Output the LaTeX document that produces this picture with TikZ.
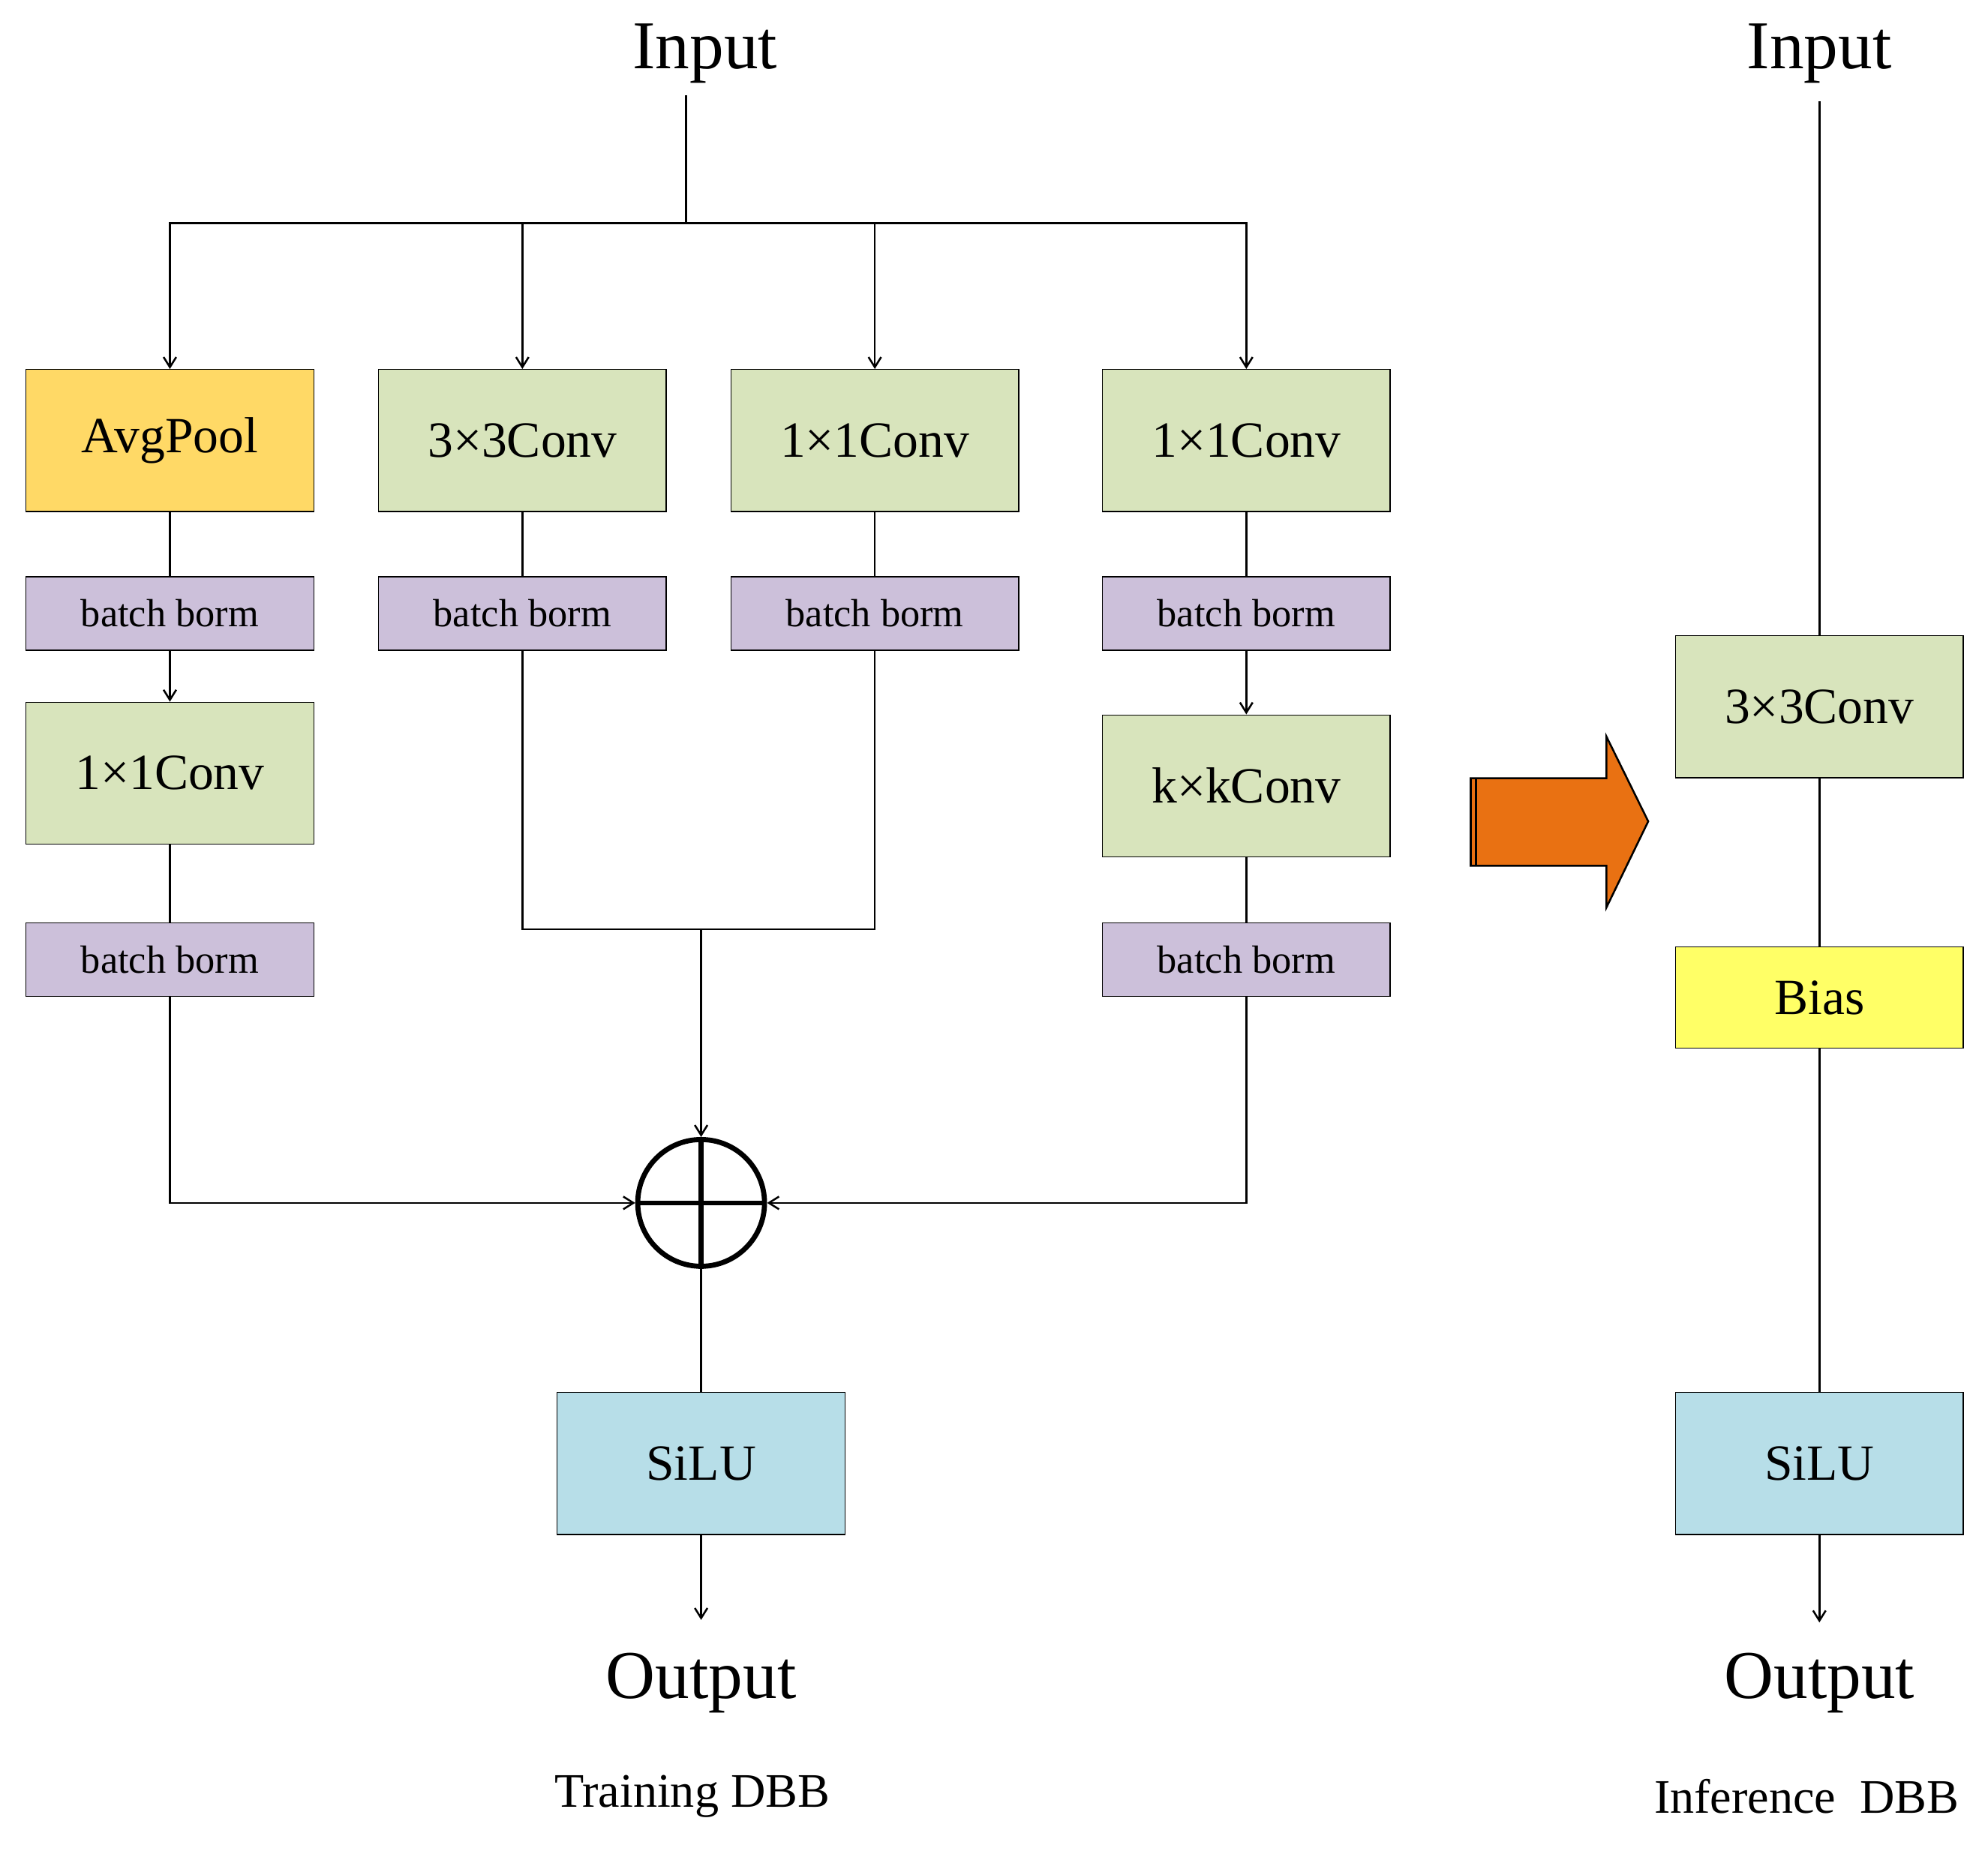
\documentclass[tikz,border=0pt]{standalone}
\usepackage{fontspec}
\setmainfont{Liberation Serif}
\usetikzlibrary{arrows.meta}
\definecolor{cgreen}{HTML}{D8E4BC}
\definecolor{cpurp}{HTML}{CCC0DA}
\definecolor{cblue}{HTML}{B7DEE8}
\definecolor{cgold}{HTML}{FFD966}
\definecolor{cyel}{HTML}{FFFF66}
\definecolor{corange}{HTML}{E97112}
\begin{document}
\begin{tikzpicture}[x=1pt,y=-1pt,
 box/.style={draw,line width=0.8pt,minimum width=227pt,inner sep=0pt,font=\fontsize{40}{44}\selectfont},
 big/.style={box,minimum height=112pt},
 bn/.style={box,fill=cpurp,minimum height=58pt,font=\fontsize{31}{34}\selectfont},
 lbl/.style={font=\fontsize{54}{60}\selectfont},
 captxt/.style={font=\fontsize{38}{42}\selectfont},
 ln/.style={line width=1.5pt},
 ar/.style={ln,-{Straight Barb[length=8pt,width=10pt]}}]
\useasboundingbox (0,0) rectangle (1568,1467);
% left
\node[lbl] (in1) at (556,42) {Input};
\coordinate (bus) at (541,176);
\coordinate (i1) at (541,75);
\node[big,fill=cgold] (ap) at (134,347.5) {AvgPool};
\node[big,fill=cgreen] (c3) at (412,347.5) {3×3Conv};
\node[big,fill=cgreen] (c1) at (690,347.5) {1×1Conv};
\node[big,fill=cgreen] (c1r) at (983,347.5) {1×1Conv};
\node[bn] (b1) at (134,484) {batch borm};
\node[bn] (b2) at (412,484) {batch borm};
\node[bn] (b3) at (690,484) {batch borm};
\node[bn] (b4) at (983,484) {batch borm};
\node[big,fill=cgreen] (c1l) at (134,610) {1×1Conv};
\node[big,fill=cgreen] (ck) at (983,620) {k×kConv};
\node[bn] (b5) at (134,757) {batch borm};
\node[bn] (b6) at (983,757) {batch borm};
\node[circle,draw,line width=4pt,minimum size=100pt,inner sep=0pt] (sum) at (553,949) {};
\draw[line width=4pt] (sum.north) -- (sum.south) (sum.west) -- (sum.east);
\node[big,fill=cblue] (silu) at (553,1154.5) {SiLU};
\coordinate (o1) at (553,1278);
\node[lbl] (out1) at (553,1328) {Output};
\node[captxt] (t1) at (546,1417) {Training DBB};
\draw[ln] (i1) -- (bus);
\draw[ar] (bus) -| (ap.north);
\draw[ar] (bus) -| (c3.north);
\draw[ar] (bus) -| (c1.north);
\draw[ar] (bus) -| (c1r.north);
\draw[ln] (ap) -- (b1); \draw[ar] (b1) -- (c1l); \draw[ln] (c1l) -- (b5);
\draw[ln] (c3) -- (b2); \draw[ln] (c1) -- (b3);
\draw[ln] (c1r) -- (b4); \draw[ar] (b4) -- (ck); \draw[ln] (ck) -- (b6);
\coordinate (j) at (553,733);
\draw[ln] (b2.south) |- (j) -| (b3.south);
\draw[ar] (j) -- (sum.north);
\draw[ar] (b5.south) |- (sum.west);
\draw[ar] (b6.south) |- (sum.east);
\draw[ln] (sum.south) -- (silu.north);
\draw[ar] (silu.south) -- (o1);
% arrow
\draw[line width=1.5pt,fill=corange] (1160,614) -- (1267,614) -- (1267,581) -- (1300,648) -- (1267,716) -- (1267,683) -- (1160,683) -- cycle;
\draw[line width=1.5pt] (1164,614) -- (1164,683);
% right
\node[lbl] (in2) at (1435,42) {Input};
\node[big,fill=cgreen] (r3) at (1435,557.5) {3×3Conv};
\node[box,fill=cyel,minimum height=80pt] (bias) at (1435,787) {Bias};
\node[big,fill=cblue] (rs) at (1435,1154.5) {SiLU};
\coordinate (i2) at (1435,80);
\coordinate (o2) at (1435,1280);
\node[lbl] (out2) at (1435,1328) {Output};
\node[captxt] (t2) at (1425,1417) {Inference\ \ DBB};
\draw[ln] (i2) -- (r3.north);
\draw[ln] (r3) -- (bias); \draw[ln] (bias) -- (rs);
\draw[ar] (rs.south) -- (o2);
\end{tikzpicture}
\end{document}
